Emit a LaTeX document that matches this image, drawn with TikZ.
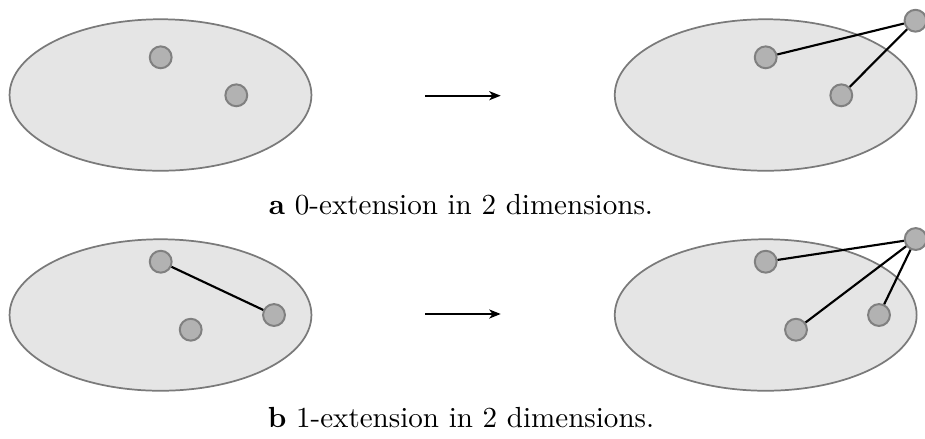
\documentclass[tikz,border=0pt]{standalone}
\usetikzlibrary{shapes.geometric,arrows.meta}
\begin{document}
\begin{tikzpicture}[x=0.375pt,y=-0.375pt,
  region/.style={ellipse,draw=black!52,fill=black!10,line width=0.65pt,minimum width=113.2pt,minimum height=56.8pt,inner sep=0pt},
  pt/.style={circle,draw=black!50,fill=black!30,line width=0.75pt,minimum size=8.2pt,inner sep=0pt},
  link/.style={line width=0.8pt,black},
  maparrow/.style={line width=0.7pt,-{Stealth[length=4.3pt,width=3.4pt,inset=1.2pt]}},
  captext/.style={anchor=base,font=\fontsize{10.9}{13}\selectfont}]
\useasboundingbox (0,0) rectangle (925,438);
% top row
\node[region] (e1) at (160.5,95) {};
\node[region] (e2) at (765.7,95) {};
\node[pt] (a1) at (160.7,57.3) {};
\node[pt] (a2) at (236.3,95.3) {};
\node[pt] (b1) at (765.7,57.3) {};
\node[pt] (b2) at (841.3,95.3) {};
\node[pt] (b3) at (915.5,20.7) {};
\draw[link] (b1) -- (b3);
\draw[link] (b2) -- (b3);
\coordinate (s1) at (425,95.7);
\coordinate (t1) at (500.7,95.7);
\draw[maparrow] (s1) -- (t1);
\node[captext] (c1) at (461,214) {\textbf{a} 0-extension in 2 dimensions.};
% bottom row
\node[region] (e3) at (160.5,315) {};
\node[region] (e4) at (765.7,315) {};
\node[pt] (p1) at (160.7,261.7) {};
\node[pt] (p2) at (274,315) {};
\node[pt] (p3) at (190.7,329.7) {};
\draw[link] (p1) -- (p2);
\node[pt] (q1) at (765.7,261.7) {};
\node[pt] (q4) at (915.7,239) {};
\node[pt] (q2) at (879,315) {};
\node[pt] (q3) at (796,329.7) {};
\draw[link] (q1) -- (q4);
\draw[link] (q2) -- (q4);
\draw[link] (q3) -- (q4);
\coordinate (s2) at (425,314);
\coordinate (t2) at (500.7,314);
\draw[maparrow] (s2) -- (t2);
\node[captext] (c2) at (461,427) {\textbf{b} 1-extension in 2 dimensions.};
\end{tikzpicture}
\end{document}
